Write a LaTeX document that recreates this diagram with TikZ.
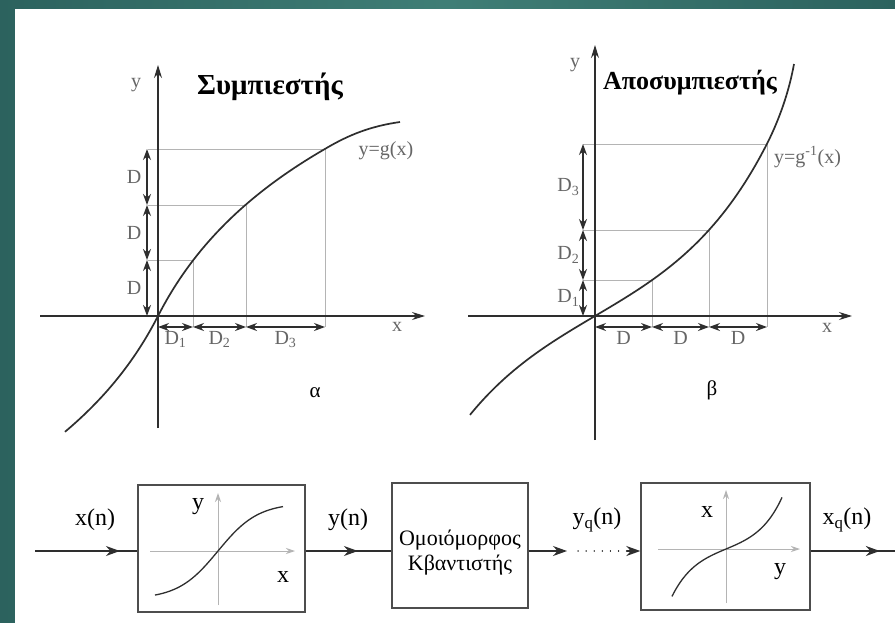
\documentclass[tikz,border=0pt]{standalone}
\usepackage{fontspec}
\setmainfont{Liberation Serif}
\usetikzlibrary{arrows.meta,positioning,decorations.markings}
\definecolor{bgdark}{HTML}{2C625E}
\definecolor{bglight}{HTML}{3F7E76}
\definecolor{gridgray}{HTML}{B4B4B4}
\definecolor{inkgray}{HTML}{2E2E2E}
\definecolor{labelgray}{HTML}{666666}
\tikzset{
  axis/.style={-{Stealth[length=13pt,width=8pt]},draw=inkgray,line width=1.1pt},
  curve/.style={draw=inkgray,line width=1.7pt},
  gridline/.style={draw=gridgray,line width=0.9pt},
  dim/.style={{Stealth[length=11pt,width=8pt]}-{Stealth[length=11pt,width=8pt]},draw=inkgray,line width=1.2pt},
  lbl/.style={font=\fontsize{20}{22}\selectfont,text=labelgray,inner sep=1pt},
  title/.style={font=\bfseries\fontsize{26}{28}\selectfont,text=black},
  panel/.style={font=\fontsize{21}{23}\selectfont,text=black},
  block/.style={draw=inkgray!85,line width=1.4pt,fill=white},
  signal/.style={font=\fontsize{24}{26}\selectfont,text=black},
  sig/.style={draw=inkgray,line width=1.3pt},
  miniaxis/.style={-{Stealth[length=9pt,width=6pt]},draw=gridgray,line width=1pt},
  midarrow/.style={decoration={markings,mark=at position #1 with {\arrow[inkgray]{Stealth[length=14pt,width=10pt]}}},postaction={decorate}}
}
\begin{document}
\begin{tikzpicture}[x=1pt,y=-1pt]
\path[use as bounding box] (0,0) rectangle (895,622);
% slide background
\shade[left color=bgdark,right color=bgdark,middle color=bglight] (0,0) rectangle (895,622);
\fill[white] (15,9) rectangle (896,623);

% (a) compressor
\foreach \xa/\xb/\ya/\yb/\k in {158/193/316/260/1,193/246/260/205/2,246/325/205/149/3}{
  \draw[gridline] (148,\yb) -- (\xb,\yb) -- (\xb,327);
  \draw[dim] (147,\ya) -- (147,\yb) node[lbl,midway,left=4pt] {D};
  \draw[dim] (\xa,327) -- (\xb,327) node[lbl,midway,below=3pt] {D\textsubscript{\k}};
}
\draw[axis] (40,316) -- (425,316);
\draw[axis] (158,428) -- (158,65);
\draw[curve] plot[domain=-93:167,samples=80] ({158+\x},{316-137*sign(\x)*ln(1+abs(\x)/70)})
  .. controls (350,134) and (372,126) .. (400,122);
\node[lbl] (ya) at (136,85) {y};
\node[lbl] (xa) at (397,327) {x};
\node[lbl] (ga) at (386,151) {y=g(x)};
\node[title,font=\bfseries\fontsize{29}{31}\selectfont] (comp) at (270,87) {Συμπιεστής};
\node[panel] (alpha) at (315,393) {α};

% (b) expander
\foreach \xa/\xb/\ya/\yb/\k in {595/652/316/280/1,652/709/280/230/2,709/767/230/144/3}{
  \draw[gridline] (583,\yb) -- (\xb,\yb) -- (\xb,327);
  \draw[dim] (583,\ya) -- (583,\yb) node[lbl,midway,left=2pt] {D\textsubscript{\k}};
  \draw[dim] (\xa,327) -- (\xb,327) node[lbl,midway,below=3pt] {D};
}
\draw[axis] (468,316) -- (852,316);
\draw[axis] (595,440) -- (595,45);
\draw[curve] plot[domain=-125:172,samples=80] ({595+\x},{316-54.4*sinh(\x/92)})
  .. controls (782,114) and (790,86) .. (794,64);
\node[lbl] (yb) at (575,65) {y};
\node[lbl] (xb) at (827,328) {x};
\node[lbl,anchor=west] (gb) at (773,157) {y=g\textsuperscript{-1}(x)};
\node[title] (decomp) at (690,83) {Αποσυμπιεστής};
\node[panel] (beta) at (712,390) {β};

% block diagram
\coordinate (xin) at (35,551);
\coordinate (xout) at (895,551);
\node[block,minimum width=167pt,minimum height=127pt] (compr) at (221.5,548.5) {};
\node[block,minimum width=136pt,minimum height=125pt] (quant) at (460,545.5) {};
\node[block,minimum width=169pt,minimum height=127pt] (expand) at (725.5,546.5) {};
\node[signal,font=\fontsize{22}{25}\selectfont,align=center] (quanttxt) at ([yshift=-7pt]quant.center) {Ομοιόμορφος\\Κβαντιστής};
\coordinate (dotsl) at (567,551);
\coordinate (dotsr) at (627,551);

\draw[sig,midarrow=0.83] (xin) -- (xin -| compr.west);
\draw[sig,midarrow=0.61] (xin -| compr.east) -- (xin -| quant.west);
\draw[sig,-{Stealth[length=14pt,width=10pt]}] (xin -| quant.east) -- (dotsl);
\draw[sig,line cap=round,dash pattern=on 0.1pt off 8pt,shorten <=11pt] (dotsl) -- (dotsr);
\draw[sig,-{Stealth[length=14pt,width=10pt]}] (dotsr) -- (xin -| expand.west);
\draw[sig,midarrow=0.82] (xin -| expand.east) -- (xout);

\node[signal] (xn) at (95,520) {x(n)};
\node[signal] (yn) at (348,520) {y(n)};
\node[signal] (yqn) at (597,520) {y\textsubscript{q}(n)};
\node[signal] (xqn) at (847,520) {x\textsubscript{q}(n)};

% small curves in the blocks
\draw[miniaxis] (150,551) -- (295,551);
\draw[miniaxis] (218,605) -- (218,493);
\draw[curve,line width=1.3pt] plot[domain=-63:65,samples=50] ({218+\x},{551-48*tanh(\x/40)});
\node[signal] (ysm) at (198,507) {y};
\node[signal] (xsm) at (283,577) {x};

\draw[miniaxis] (658,549) -- (800,549);
\draw[miniaxis] (726,603) -- (726,490);
\draw[curve,line width=1.3pt] plot[domain=-54:56,samples=50] ({726+\x},{549-10.1*sinh(\x/24)});
\node[signal] (xsm2) at (707,512) {x};
\node[signal] (ysm2) at (780,572) {y};
\end{tikzpicture}
\end{document}
